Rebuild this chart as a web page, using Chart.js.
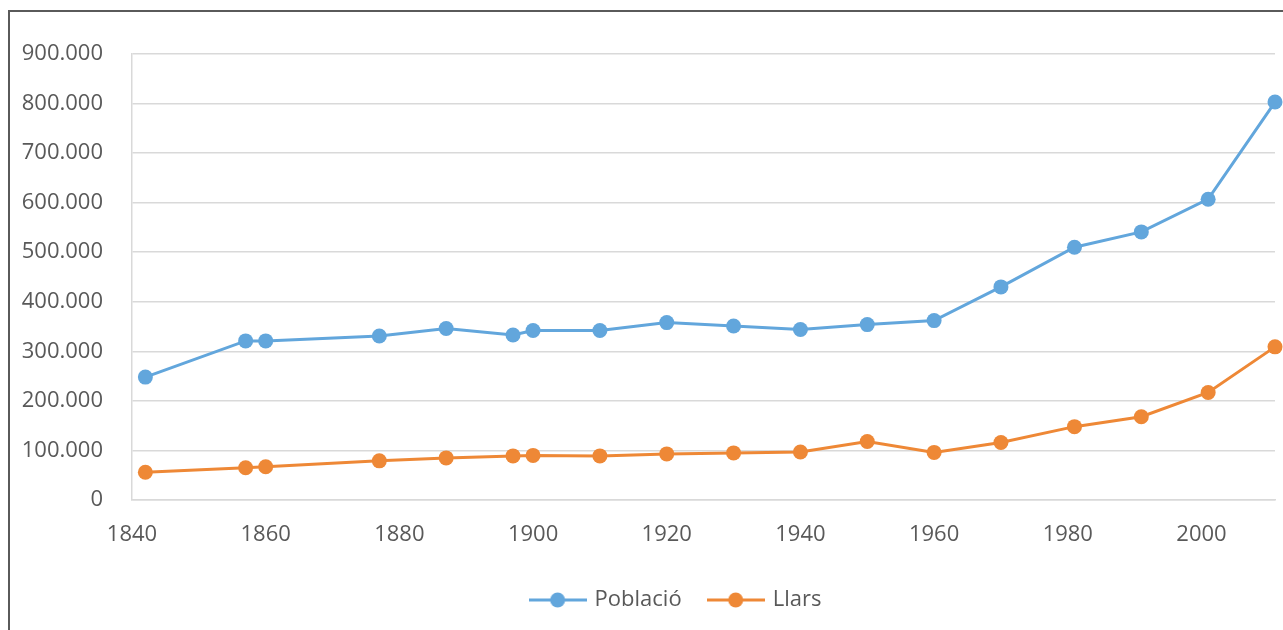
<!DOCTYPE html>
<html>
<head>
<meta charset="utf-8">
<script src="https://cdn.jsdelivr.net/npm/chart.js@4.4.1/dist/chart.umd.min.js"></script>
<style>
  html, body { margin: 0; padding: 0; background: #fff; overflow: hidden; }
  #wrap { position: relative; width: 1283px; height: 630px; overflow: hidden; }
  #frame { position: absolute; left: 8px; top: 10px; width: 1400px; height: 800px; border: 2px solid #5a5a5a; box-sizing: border-box; }
  canvas { position: absolute; left: 0; top: 0; }
</style>
</head>
<body>
<div id="wrap">
  <div id="frame"></div>
  <canvas id="c" width="1283" height="630"></canvas>
</div>
<script>
const years   = [1842, 1857, 1860, 1877, 1887, 1897, 1900, 1910, 1920, 1930, 1940, 1950, 1960, 1970, 1981, 1991, 2001, 2011];
const poblacio = [248000, 321000, 321000, 331000, 346000, 333000, 342000, 342000, 358000, 351000, 344000, 354000, 362000, 430000, 510000, 541000, 607000, 803000];
const llars    = [56000, 65000, 67000, 79000, 85000, 89000, 90000, 89000, 93000, 95000, 97000, 118000, 96000, 116000, 148000, 168000, 217000, 309000];
const seriesNames = ['Població', 'Llars'];
const yTicks = [0, 100000, 200000, 300000, 400000, 500000, 600000, 700000, 800000, 900000];
const xTicks = [1840, 1860, 1880, 1900, 1920, 1940, 1960, 1980, 2000];

const BLUE = '#62A6DC';
const ORANGE = '#EE8836';
const FONT = { family: '"Open Sans", sans-serif', size: 22 };
const PAD_BOTTOM = 9;

function fmt(v) { return String(v).replace(/\B(?=(\d{3})+(?!\d))/g, '.'); }
function legendIcon(color) {
  const c = document.createElement('canvas');
  c.width = 58; c.height = 18;
  const g = c.getContext('2d');
  g.strokeStyle = color; g.lineWidth = 3;
  g.beginPath(); g.moveTo(0, 9); g.lineTo(58, 9); g.stroke();
  g.fillStyle = color;
  g.beginPath(); g.arc(29, 9, 7.5, 0, Math.PI * 2); g.fill();
  return c;
}
const icons = [legendIcon(BLUE), legendIcon(ORANGE)];

const toXY = (arr) => years.map((y, i) => ({ x: y, y: arr[i] }));

const legendShift = {
  id: 'legendShift',
  afterLayout(chart) { if (chart.legend) { chart.legend.left = 78; } },
  beforeDraw(chart) {
    if (chart.legend) {
      chart.legend.left = 78;
      if (chart.legend.adjustHitBoxes) chart.legend.adjustHitBoxes();
    }
  }
};

new Chart(document.getElementById('c'), {
  type: 'line',
  data: {
    datasets: [
      { label: seriesNames[0], data: toXY(poblacio), borderColor: BLUE, backgroundColor: BLUE,
        borderWidth: 3, pointRadius: 7.5, pointBorderWidth: 0, pointHoverRadius: 7.5, clip: false, tension: 0 },
      { label: seriesNames[1], data: toXY(llars), borderColor: ORANGE, backgroundColor: ORANGE,
        borderWidth: 3, pointRadius: 7.5, pointBorderWidth: 0, pointHoverRadius: 7.5, clip: false, tension: 0 }
    ]
  },
  plugins: [legendShift],
  options: {
    responsive: false,
    animation: false,
    devicePixelRatio: 1,
    events: [],
    layout: { padding: { left: 0, right: 8, top: 54, bottom: PAD_BOTTOM } },
    plugins: {
      tooltip: { enabled: false },
      legend: {
        position: 'bottom',
        labels: {
          usePointStyle: true,
          pointStyleWidth: 52,
          padding: 28,
          color: '#595959',
          font: FONT,
          generateLabels: (chart) => Chart.defaults.plugins.legend.labels.generateLabels(chart)
            .map((l, i) => Object.assign(l, { pointStyle: icons[i] }))
        }
      }
    },
    scales: {
      x: {
        type: 'linear',
        min: 1840,
        max: 2011,
        afterBuildTicks: (s) => { s.ticks = xTicks.map(v => ({ value: v })); },
        afterFit: (s) => {
          const lh = s.chart.legend ? s.chart.legend.height : 78;
          s.height = s.chart.height - PAD_BOTTOM - lh - 500;
        },
        grid: { display: false, drawTicks: false },
        border: { display: true, color: '#d9d9d9', width: 1.5 },
        ticks: { color: '#595959', font: FONT, padding: 22, maxRotation: 0, autoSkip: false,
                 callback: (v) => String(v) }
      },
      y: {
        min: 0,
        max: 900000,
        afterBuildTicks: (s) => { s.ticks = yTicks.map(v => ({ value: v })); },
        afterFit: (s) => { s.width = 132; },
        grid: { color: '#d9d9d9', lineWidth: 1.5, drawTicks: false },
        border: { display: true, color: '#d9d9d9', width: 1.5 },
        ticks: { color: '#595959', font: FONT, padding: 29, callback: (v) => fmt(v) }
      }
    }
  }
});
</script>
</body>
</html>
